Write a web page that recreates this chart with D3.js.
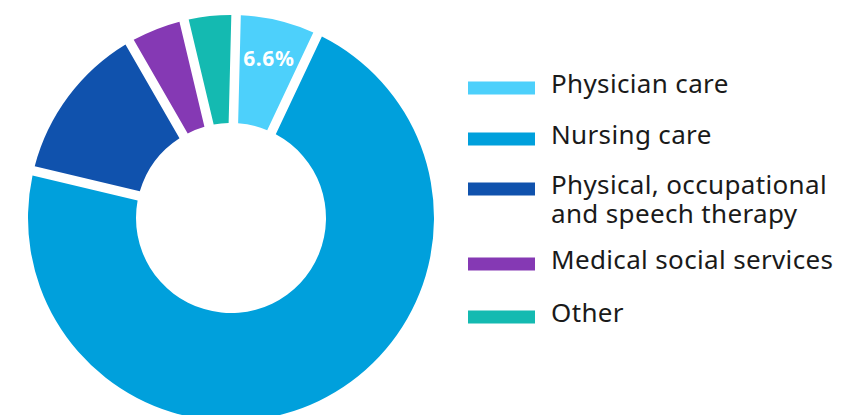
<!DOCTYPE html>
<html>
<head>
<meta charset="utf-8">
<script src="https://cdn.jsdelivr.net/npm/d3@7"></script>
<style>
  html, body { margin: 0; padding: 0; background: #fff; }
  svg { display: block; font-family: "Noto Sans", "Open Sans", sans-serif; }
</style>
</head>
<body>
<div id="chart"></div>
<script>
const categories = ["Physician care", "Nursing care", "Physical, occupational and speech therapy", "Medical social services", "Other"];
const legendLines = [["Physician care"], ["Nursing care"], ["Physical, occupational", "and speech therapy"], ["Medical social services"], ["Other"]];
const shares = [6.6, 71.5, 12.9, 4.6, 4.1];
const colors = ["#4dd0fb", "#00a0dc", "#1052ad", "#8539b4", "#14bab1"];
const shownLabels = ["6.6%", "", "", "", ""];

const width = 864, height = 415;
const cx = 231, cy = 218;

const svg = d3.select("#chart").append("svg")
    .attr("width", width)
    .attr("height", height);

const g = svg.append("g").attr("transform", `translate(${cx},${cy})`);

// slices start a little past 12 o'clock
const pie = d3.pie()
    .value(d => d)
    .sort(null)
    .startAngle(0.025)
    .endAngle(0.025 + 2 * Math.PI);

const arc = d3.arc()
    .innerRadius(95)
    .outerRadius(203)
    .padAngle(0.095)
    .padRadius(100);

const labelArc = d3.arc().innerRadius(164).outerRadius(164);

const arcs = pie(shares);

g.selectAll("path.slice")
    .data(arcs)
    .enter().append("path")
    .attr("class", "slice")
    .attr("d", arc)
    .attr("fill", (d, i) => colors[i]);

g.selectAll("text.pct")
    .data(arcs)
    .enter().append("text")
    .attr("class", "pct")
    .attr("transform", d => `translate(${labelArc.centroid(d)})`)
    .attr("text-anchor", "middle")
    .attr("dy", "0.35em")
    .attr("fill", "#fff")
    .attr("font-weight", "bold")
    .attr("font-size", 21)
    .attr("letter-spacing", 0.6)
    .text((d, i) => shownLabels[i]);

// LEGEND
const rowTops = [88, 139, 189, 264, 317];
const legend = svg.append("g").attr("class", "legend");

const rows = legend.selectAll("g.row")
    .data(categories)
    .enter().append("g")
    .attr("class", "row")
    .attr("transform", (d, i) => `translate(468,${rowTops[i]})`);

rows.append("rect")
    .attr("x", 0)
    .attr("y", -6.5)
    .attr("width", 67)
    .attr("height", 13)
    .attr("fill", (d, i) => colors[i]);

rows.append("text")
    .attr("x", 83)
    .attr("y", 5)
    .attr("font-size", 26)
    .attr("letter-spacing", 0.35)
    .attr("fill", "#1a1a1a")
    .each(function(d, i) {
        const t = d3.select(this);
        legendLines[i].forEach((line, j) => {
            t.append("tspan")
                .attr("x", 83)
                .attr("dy", j === 0 ? 0 : 29)
                .text(line);
        });
    });
</script>
</body>
</html>
